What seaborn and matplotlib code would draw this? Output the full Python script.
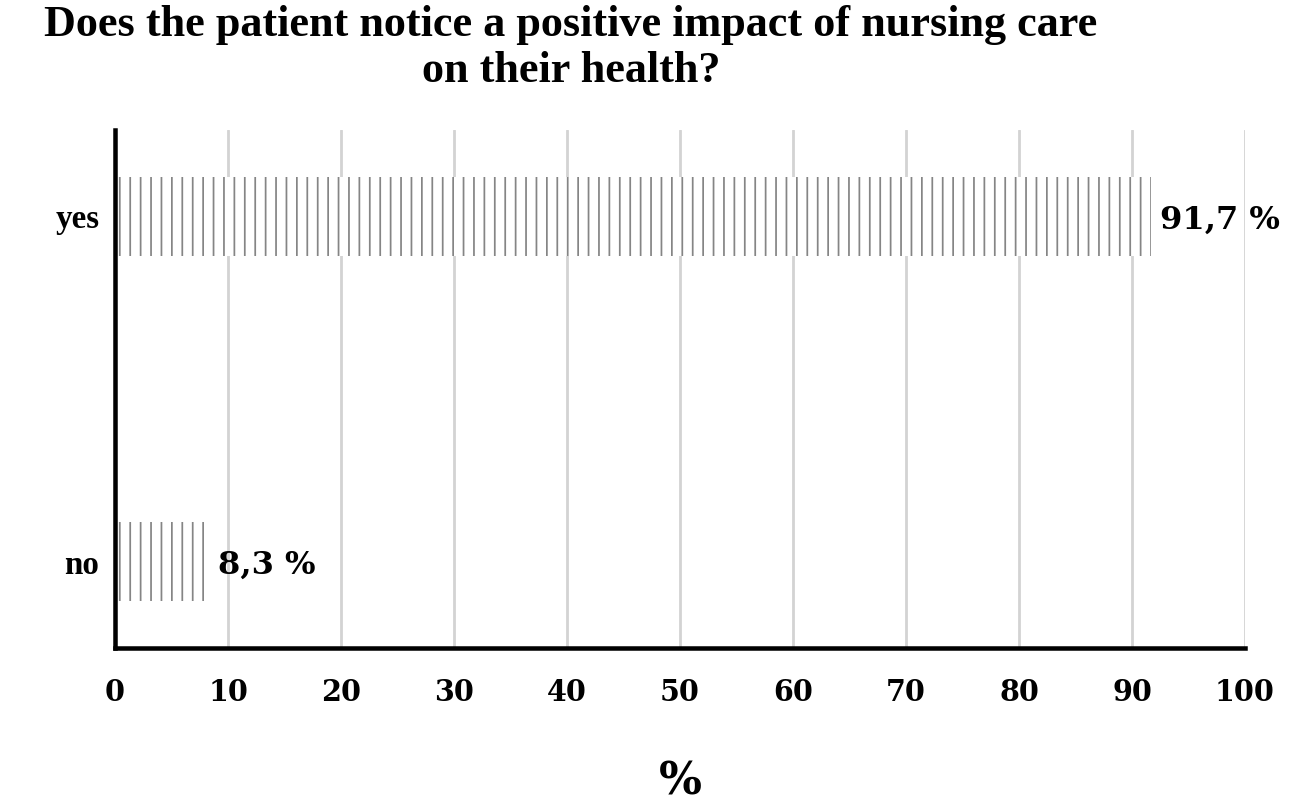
import matplotlib
matplotlib.use('Agg')
import matplotlib.pyplot as plt
import seaborn as sns
import pandas as pd

answers = ['yes', 'no']
percent = [91.7, 8.3]
value_labels = ['91,7 %', '8,3 %']
x_ticks = [0, 10, 20, 30, 40, 50, 60, 70, 80, 90, 100]

df = pd.DataFrame({'answer': answers, 'percent': percent})

sns.set_style('white')
plt.rcParams['hatch.linewidth'] = 1.0
plt.rcParams['text.color'] = 'black'
plt.rcParams['xtick.color'] = 'black'
plt.rcParams['ytick.color'] = 'black'
plt.rcParams['axes.labelcolor'] = 'black'

fig = plt.figure(figsize=(1293 / 125, 805 / 125), dpi=125, facecolor='w')
ax = fig.add_axes([115 / 1293, 1 - 648 / 805, 1130 / 1293, 518 / 805])

ax = sns.barplot(data=df, x='percent', y='answer', orient='h', color='white',
                 width=0.23, ax=ax)
for p in ax.patches:
    p.set_facecolor('white')
    p.set_hatch('||')
    p.set_edgecolor('#858585')
    p.set_linewidth(0)

ax.set_xlim(0, 100)
ax.set_ylim(1.25, -0.25)
ax.set_axisbelow(True)
ax.set_xticks(x_ticks)
ax.xaxis.grid(True, color='#d3d3d3', linewidth=1.6)
ax.yaxis.grid(False)

for side in ['top', 'right']:
    ax.spines[side].set_visible(False)
for side in ['left', 'bottom']:
    ax.spines[side].set_color('black')
    ax.spines[side].set_linewidth(2.6)

ax.tick_params(axis='both', length=0)
ax.tick_params(axis='x', pad=17)
ax.tick_params(axis='y', pad=9)
for t in ax.get_xticklabels():
    t.set_fontfamily('DejaVu Serif')
    t.set_fontweight('heavy')
    t.set_fontsize(16.5)
for t in ax.get_yticklabels():
    t.set_fontfamily('Liberation Serif')
    t.set_fontweight('bold')
    t.set_fontsize(19)

for i, v in enumerate(percent):
    ax.text(v + 0.8, i + 0.01, value_labels[i], va='center', ha='left',
            fontsize=18.5, fontweight='heavy', family='DejaVu Serif', color='black')

ax.set_xlabel('%', fontsize=26, fontweight='bold', family='DejaVu Serif',
              labelpad=31)
ax.set_ylabel('')

fig.text(571 / 1293, 1 - 5 / 805,
         'Does the patient notice a positive impact of nursing care\non their health?',
         ha='center', va='top', fontsize=25.5, fontweight='bold',
         family='Liberation Serif', linespacing=1.2, color='black')

plt.savefig('out.png', dpi=125)
